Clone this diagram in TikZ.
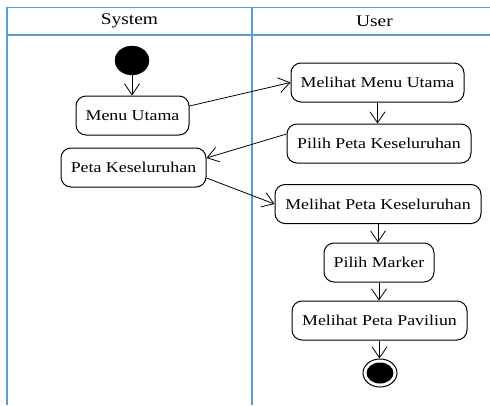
\documentclass[tikz,border=0pt]{standalone}
\usepackage{fontspec}
\setmainfont[FakeStretch=1.19]{Liberation Serif}
\usetikzlibrary{arrows.meta,shapes.geometric}
\definecolor{lane}{RGB}{91,155,213}
\tikzset{
  act/.style={draw, rounded corners=10pt, line width=1pt, minimum height=39pt, inner sep=2pt,
              font=\fontsize{15}{18}\selectfont},
  hdr/.style={font=\fontsize{16.3}{19}\selectfont, inner sep=0pt},
  lanel/.style={draw=lane, line width=1.3pt},
  flow/.style={-{Straight Barb[length=11pt,width=15pt,line width=0.8pt]}, line width=0.8pt},
}
\begin{document}
\begin{tikzpicture}[x=1pt,y=-1pt]
\useasboundingbox (0,0) rectangle (490,405);
% swimlanes
\draw[lanel] (7,405) -- (7,7.5) -- (490,7.5);
\draw[lanel] (7,35) -- (490,35);
\draw[lanel] (252,7.5) -- (252,405);
\node[hdr] (hs) at (129.5,21) {System};
\node[hdr] (hu) at (374.5,21) {User};
% start
\node[ellipse, fill=black, draw=black, minimum width=34pt, minimum height=29pt, inner sep=0pt] (st) at (132,60.5) {};
% activities
\node[act, minimum width=113pt] (mu) at (132.5,115.5) {Menu Utama};
\node[act, minimum width=173pt] (mmu) at (377.5,82.5) {Melihat Menu Utama};
\node[act, minimum width=184pt] (ppk) at (379,143.5) {Pilih Peta Keseluruhan};
\node[act, minimum width=145pt] (pk) at (133.5,167.5) {Peta Keseluruhan};
\node[act, minimum width=206pt] (mpk) at (378,204) {Melihat Peta Keseluruhan};
\node[act, minimum width=110pt] (pm) at (379,262.5) {Pilih Marker};
\node[act, minimum width=175pt] (mpp) at (379.5,320.5) {Melihat Peta Paviliun};
% end
\node[ellipse, draw=black, line width=1pt, minimum width=34pt, minimum height=28pt, inner sep=0pt] (en) at (380,373) {};
\node[ellipse, fill=black, minimum width=27pt, minimum height=21pt, inner sep=0pt] (enin) at (en.center) {};
% flows
\draw[flow] (st.south) -- (st.south |- mu.north);
\draw[flow] ([yshift=9.5pt]mu.east) -- (mmu.west);
\draw[flow] (mmu.south) -- (mmu.south |- ppk.north);
\draw[flow] ([yshift=9.5pt]ppk.west) -- ([yshift=9.5pt]pk.east);
\draw[flow] ([yshift=-10.5pt]pk.east) -- (mpk.west);
\draw[flow] (mpk.south) -- (mpk.south |- pm.north);
\draw[flow] (pm.south) -- (pm.south |- mpp.north);
\draw[flow] (mpp.south) -- (mpp.south |- en.north);
\end{tikzpicture}
\end{document}
